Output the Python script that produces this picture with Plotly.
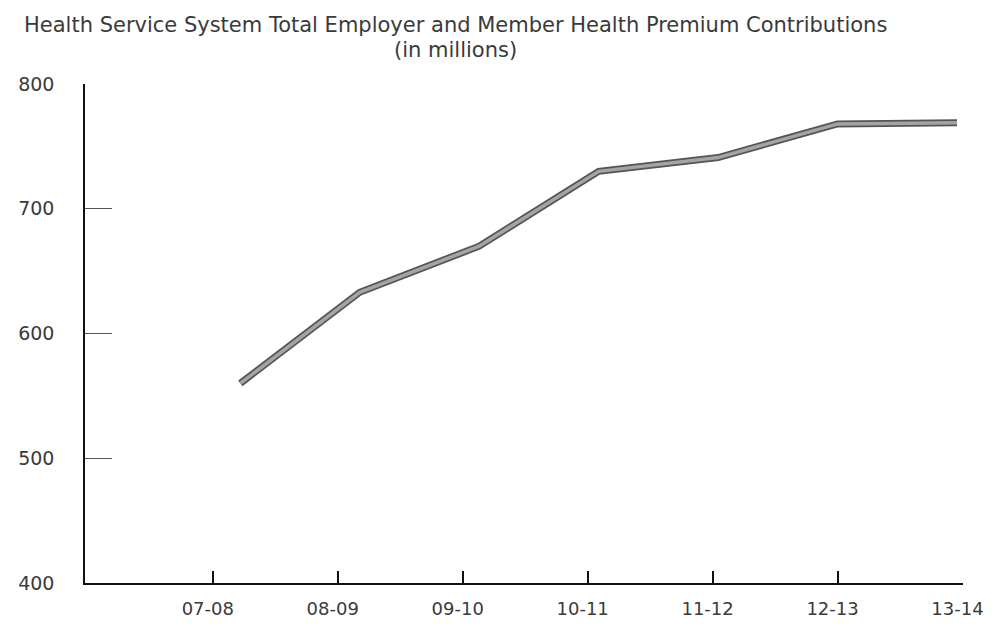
"""Health Service System premium contributions line chart."""

import plotly.graph_objects as go

# Fiscal years and total contributions (in millions)
fiscal_years = ["07-08", "08-09", "09-10", "10-11", "11-12", "12-13", "13-14"]
contributions = [560, 633, 670, 730, 741, 768, 769]
y_ticks = [400, 500, 600, 700, 800]

TITLE_LINE_1 = "Health Service System Total Employer and Member Health Premium Contributions"
TITLE_LINE_2 = "(in millions)"

FONT = "DejaVu Sans"
TEXT_COLOR = "#3a3a3a"
AXIS_COLOR = "#111111"

# The page body has an 8px margin on every side, so keep the figure inside it
PAGE_OFFSET = 8
FIG_W, FIG_H = 992 - 2 * PAGE_OFFSET, 626 - 2 * PAGE_OFFSET

# Plot area in page pixels
PLOT_L, PLOT_R, PLOT_T, PLOT_B = 85, 963, 84, 583

# In the printed chart the line points sit slightly off the year ticks,
# so the ticks use a slightly stretched spacing relative to the categories
X_RANGE = [-1.3, 6.05]
TICK_START, TICK_STEP = -0.23, 1.046
tick_positions = [TICK_START + TICK_STEP * i for i in range(len(fiscal_years))]

fig = go.Figure()

# Dark outer stroke, then lighter core to mimic the printed textured line
fig.add_trace(
    go.Scatter(
        x=fiscal_years,
        y=contributions,
        mode="lines",
        line=dict(color="#555555", width=7),
        hoverinfo="skip",
        showlegend=False,
    )
)
fig.add_trace(
    go.Scatter(
        x=fiscal_years,
        y=contributions,
        mode="lines",
        line=dict(color="#a4a4a4", width=3.5),
        name="Contributions",
        showlegend=False,
    )
)

fig.update_layout(
    width=FIG_W,
    height=FIG_H,
    margin=dict(
        l=PLOT_L - PAGE_OFFSET,
        r=FIG_W - (PLOT_R - PAGE_OFFSET),
        t=PLOT_T - PAGE_OFFSET,
        b=FIG_H - (PLOT_B - PAGE_OFFSET),
        autoexpand=False,
    ),
    paper_bgcolor="white",
    plot_bgcolor="white",
    font=dict(family=FONT, color=TEXT_COLOR),
    xaxis=dict(
        type="category",
        categoryorder="array",
        categoryarray=fiscal_years,
        range=X_RANGE,
        tickmode="array",
        tickvals=tick_positions,
        ticktext=fiscal_years,
        automargin=False,
        showgrid=False,
        zeroline=False,
        showline=True,
        linecolor=AXIS_COLOR,
        linewidth=1.5,
        ticks="inside",
        ticklen=12,
        tickwidth=1.5,
        tickcolor=AXIS_COLOR,
        tickfont=dict(family=FONT, size=18, color=TEXT_COLOR),
        ticklabelstandoff=9,
        ticklabelshift=-5,
    ),
    yaxis=dict(
        range=[400, 800],
        tickvals=y_ticks,
        automargin=False,
        showgrid=False,
        zeroline=False,
        showline=True,
        linecolor=AXIS_COLOR,
        linewidth=1.5,
        ticks="inside",
        ticklen=27,
        tickwidth=1.2,
        tickcolor="#555555",
        tickfont=dict(family=FONT, size=19, color=TEXT_COLOR),
        ticklabelstandoff=25,
    ),
)

# Title lines, positioned from page pixels relative to the plot area
for text, page_y in [(TITLE_LINE_1, 25), (TITLE_LINE_2, 50)]:
    fig.add_annotation(
        text=text,
        xref="paper",
        yref="paper",
        x=(455 - PLOT_L) / (PLOT_R - PLOT_L),
        y=1 + (PLOT_T - page_y) / (PLOT_B - PLOT_T),
        xanchor="center",
        yanchor="middle",
        showarrow=False,
        font=dict(family=FONT, size=21, color=TEXT_COLOR),
    )

fig.write_html("out.html")
